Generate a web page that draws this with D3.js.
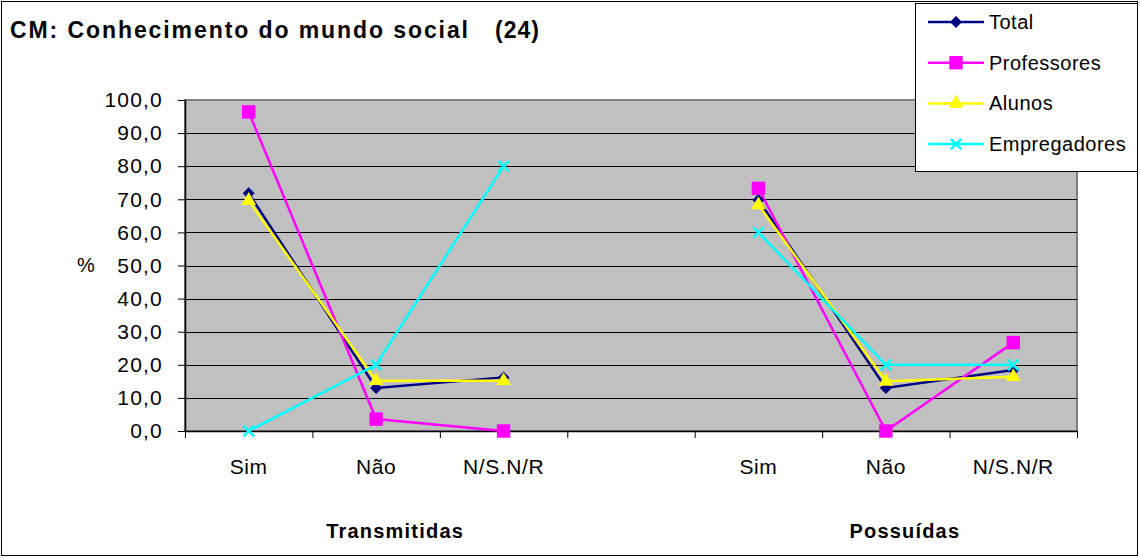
<!DOCTYPE html>
<html>
<head>
<meta charset="utf-8">
<script src="https://cdn.jsdelivr.net/npm/d3@7"></script>
<style>
  body { margin: 0; background: #fff; }
  text { font-family: "Liberation Sans", Arial, sans-serif; fill: #000; }
</style>
</head>
<body>
<svg id="chart" width="1140" height="558"></svg>
<script>
// categories along the x axis (slot 4 is the empty gap between the groups)
const categories = ["Sim", "Não", "N/S.N/R", "", "Sim", "Não", "N/S.N/R"];
const groups = ["Transmitidas", "Possuídas"];
const yTicks = [0, 10, 20, 30, 40, 50, 60, 70, 80, 90, 100];

// series values in %
const total        = [71.8, 13.0, 16.2, null, 69.8, 13.0, 18.4];
const professores  = [96.4,  3.6,  0.0, null, 73.3,  0.0, 26.7];
const alunos       = [69.6, 15.2, 15.2, null, 68.3, 15.0, 16.4];
const empregadores = [ 0.0, 20.0, 80.0, null, 60.0, 20.0, 20.0];

let svg = d3.select("#chart");

let locale = d3.formatLocale({decimal: ",", thousands: ".", grouping: [3], currency: ["", ""]});
let fmt = locale.format(".1f");

// custom marker shapes
let diamond = {draw(ctx, size) {
  let r = Math.sqrt(size) / 2;
  ctx.moveTo(0, -r); ctx.lineTo(r, 0); ctx.lineTo(0, r); ctx.lineTo(-r, 0); ctx.closePath();
}};
let cross = {draw(ctx, size) {
  let r = Math.sqrt(size) / 2;
  ctx.moveTo(-r, -r); ctx.lineTo(r, r); ctx.moveTo(r, -r); ctx.lineTo(-r, r);
}};

let series = [
  {name: "Total", values: total, color: "#000080", type: diamond, size: 144, fill: true},
  {name: "Professores", values: professores, color: "#FF00FF", type: d3.symbolSquare, size: 180, fill: true},
  {name: "Alunos", values: alunos, color: "#FFFF00", type: d3.symbolTriangle, size: 95, fill: true},
  {name: "Empregadores", values: empregadores, color: "#00FFFF", type: cross, size: 110, fill: false}
];

let plot = {left: 185, right: 1077, top: 100, bottom: 431};

let x = d3.scaleBand()
  .domain(d3.range(categories.length))
  .range([plot.left, plot.right]);

let xEdge = d3.scaleLinear()
  .domain([0, categories.length])
  .range([plot.left, plot.right]);

let y = d3.scaleLinear()
  .domain([0, 100])
  .range([plot.bottom, plot.top]);

// outer chart border
svg.append("rect")
  .attr("x", 1.5).attr("y", 1.5)
  .attr("width", 1136).attr("height", 554)
  .attr("fill", "#fff")
  .attr("stroke", "#000")
  .attr("stroke-width", 1);

// plot area
svg.append("rect")
  .attr("x", plot.left).attr("y", plot.top)
  .attr("width", plot.right - plot.left)
  .attr("height", plot.bottom - plot.top)
  .attr("fill", "#C0C0C0")
  .attr("stroke", "#808080")
  .attr("stroke-width", 2);

// gridlines
svg.append("g")
  .selectAll("line")
  .data(yTicks.slice(1, -1))
  .enter()
  .append("line")
  .attr("x1", plot.left).attr("x2", plot.right)
  .attr("y1", d => Math.round(y(d)) + 0.5)
  .attr("y2", d => Math.round(y(d)) + 0.5)
  .attr("stroke", "#000")
  .attr("stroke-width", 1.2);

// y axis
let yAxis = svg.append("g")
  .attr("transform", "translate(" + plot.left + ",0)")
  .call(d3.axisLeft(y).tickValues(yTicks).tickFormat(fmt).tickSize(7).tickPadding(15).tickSizeOuter(0));
yAxis.select(".domain").attr("stroke", "#000").attr("stroke-width", 1.5);
yAxis.selectAll("text")
  .style("font-family", "'Liberation Sans', Arial, sans-serif")
  .style("font-size", "21px")
  .style("letter-spacing", "1.2px")
  .attr("fill", "#000");

// x axis ticks at category edges
let xAxis = svg.append("g")
  .attr("transform", "translate(0," + plot.bottom + ")")
  .call(d3.axisBottom(xEdge).tickValues(d3.range(categories.length + 1)).tickFormat("").tickSize(7).tickSizeOuter(0));
xAxis.select(".domain").attr("stroke", "#000").attr("stroke-width", 1.5);

// category labels
svg.append("g")
  .selectAll("text")
  .data(categories)
  .enter()
  .append("text")
  .attr("x", (d, i) => x(i) + x.bandwidth() / 2)
  .attr("y", 474)
  .attr("text-anchor", "middle")
  .style("font-size", "21px")
  .style("letter-spacing", "0.6px")
  .text(d => d);

// group labels
svg.append("g")
  .selectAll("text")
  .data(groups)
  .enter()
  .append("text")
  .attr("x", (d, i) => x(i * 4 + 1) + x.bandwidth() / 2 + 19)
  .attr("y", 538)
  .attr("text-anchor", "middle")
  .style("font-size", "20px")
  .style("font-weight", "bold")
  .style("letter-spacing", "1.2px")
  .text(d => d);

// "%" label
svg.append("text")
  .attr("x", 86).attr("y", 272)
  .attr("text-anchor", "middle")
  .style("font-size", "20px")
  .text("%");

// title
let title = svg.append("text")
  .attr("x", 10).attr("y", 38)
  .style("font-size", "23px")
  .style("font-weight", "bold");
title.append("tspan")
  .attr("textLength", 458)
  .attr("lengthAdjust", "spacing")
  .text("CM: Conhecimento do mundo social");
title.append("tspan")
  .attr("x", 495)
  .style("letter-spacing", "1px")
  .text("(24)");

// lines and markers
let line = d3.line()
  .defined(d => d != null)
  .x((d, i) => x(i) + x.bandwidth() / 2)
  .y(d => y(d));

series.forEach(s => {
  svg.append("path")
    .datum(s.values)
    .attr("d", line)
    .attr("fill", "none")
    .attr("stroke", s.color)
    .attr("stroke-width", 2.5);
});

series.forEach(s => {
  svg.append("g")
    .selectAll("path")
    .data(s.values.map((v, i) => ({v: v, i: i})).filter(d => d.v != null))
    .enter()
    .append("path")
    .attr("transform", d => "translate(" + (x(d.i) + x.bandwidth() / 2) + "," + y(d.v) + ")")
    .attr("d", d3.symbol().type(s.type).size(s.size))
    .attr("fill", s.fill ? s.color : "none")
    .attr("stroke", s.color)
    .attr("stroke-width", s.fill ? 0 : 2.5);
});

// legend
let legend = svg.append("g");
legend.append("rect")
  .attr("x", 915.5).attr("y", 3.5)
  .attr("width", 222).attr("height", 168)
  .attr("fill", "#fff")
  .attr("stroke", "#000")
  .attr("stroke-width", 1);

let item = legend.selectAll("g")
  .data(series)
  .enter()
  .append("g")
  .attr("transform", (d, i) => "translate(0," + (22 + i * 40.7) + ")");

item.append("line")
  .attr("x1", 928).attr("x2", 984)
  .attr("stroke", d => d.color)
  .attr("stroke-width", 2.5);
item.append("path")
  .attr("transform", "translate(956,0)")
  .attr("d", d => d3.symbol().type(d.type).size(d.size)())
  .attr("fill", d => d.fill ? d.color : "none")
  .attr("stroke", d => d.color)
  .attr("stroke-width", d => d.fill ? 0 : 2.5);
item.append("text")
  .attr("x", 989).attr("y", 7)
  .style("font-size", "20px")
  .style("letter-spacing", "0.5px")
  .text(d => d.name);
</script>
</body>
</html>
